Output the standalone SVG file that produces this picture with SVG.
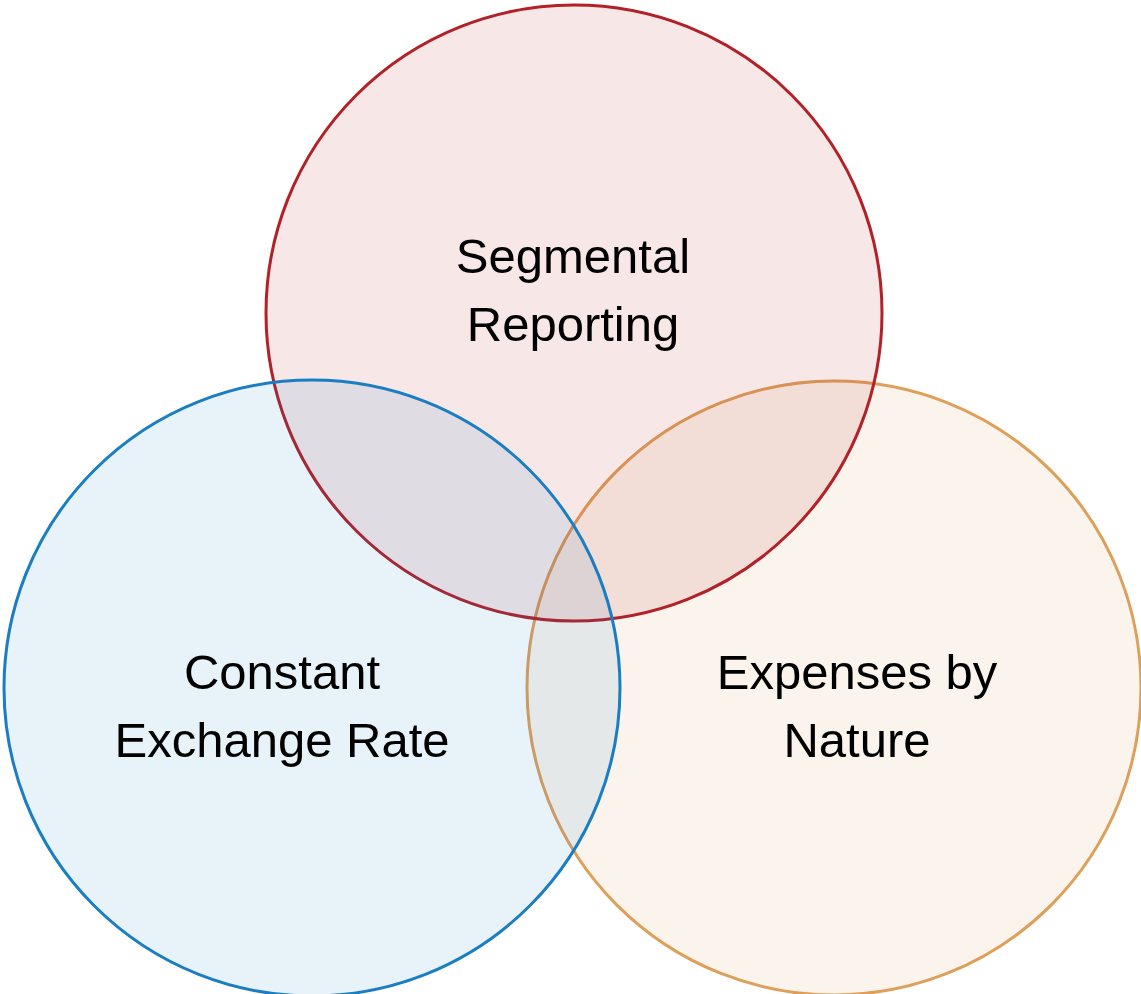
<svg xmlns="http://www.w3.org/2000/svg" width="1141" height="994" viewBox="0 0 1141 994">
<style>
.c{stroke-width:3}
.t{font-family:"Liberation Sans",Arial,sans-serif;font-size:49px;fill:#000;text-anchor:middle}
</style>
<rect width="1141" height="994" fill="#fff"/>
<g id="node-expenses"><circle class="c" cx="834" cy="688" r="307" fill="#DE9F5A" fill-opacity="0.11" stroke="#DE9F5A"/></g>
<g id="node-segmental"><circle class="c" cx="574" cy="313" r="308" fill="#B22028" fill-opacity="0.11" stroke="#B22028"/></g>
<g id="node-constant"><circle class="c" cx="312" cy="688" r="308" fill="#1B7DC2" fill-opacity="0.1" stroke="#1B7DC2"/></g>
<g id="labels">
<text class="t" x="573" y="273">Segmental</text>
<text class="t" x="573" y="341">Reporting</text>
<text class="t" x="282" y="689">Constant</text>
<text class="t" x="282" y="757">Exchange Rate</text>
<text class="t" x="857" y="689">Expenses by</text>
<text class="t" x="857" y="757">Nature</text>
</g>
<g id="connectors"/>
</svg>
